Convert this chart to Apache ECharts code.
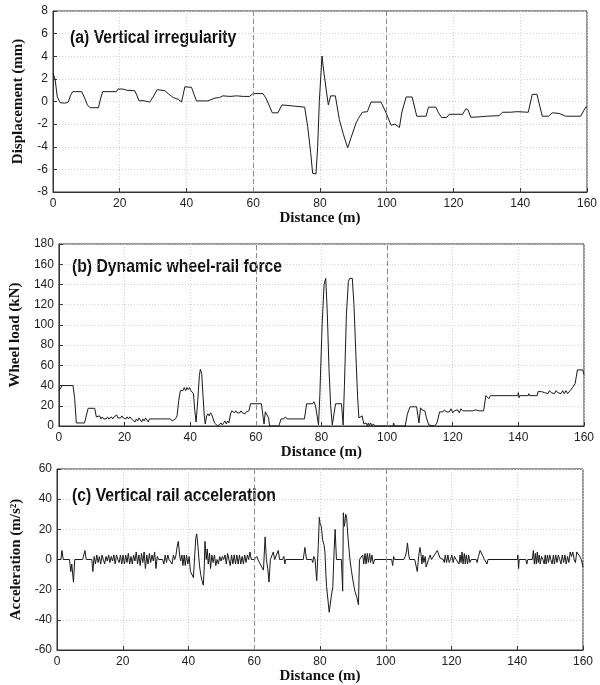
<!DOCTYPE html>
<html><head><meta charset="utf-8">
<script src="https://cdn.jsdelivr.net/npm/echarts@6/dist/echarts.min.js"></script>
<style>html,body{margin:0;padding:0;background:#fff}#c{width:600px;height:685px}</style>
</head><body><div id="c"></div>
<script>
const xTicks = [0, 20, 40, 60, 80, 100, 120, 140, 160];
const markX = [60, 100];
const titles = ['(a) Vertical irregularity', '(b) Dynamic wheel-rail force', '(c) Vertical rail acceleration'];
const yNames = ['Displacement (mm)', 'Wheel load (kN)', 'Acceleration (m/s²)'];
const xName = 'Distance (m)';

const displacement = [[0,2.5],[0.6,2.0],[1.3,0.4],[2.1,-0.1],[3.5,-0.15],[4.6,-0.05],[5.2,0.5],[5.9,0.87],[8.6,0.87],[9.5,0.3],[10.3,-0.3],[11.1,-0.55],[13.6,-0.55],[14.3,0.3],[14.9,0.87],[19,0.87],[19.5,1.1],[21,1.1],[22,1.0],[24.5,0.95],[25.2,0.5],[25.8,0.05],[27,0.08],[29,-0.05],[30,0.4],[31.2,1.05],[33.5,0.95],[34.5,0.7],[36,0.35],[37.5,0.2],[38.5,-0.05],[39,0.6],[39.5,1.3],[41.5,1.25],[42.3,0.6],[43,0.05],[46.4,0.05],[46.9,0.2],[48.5,0.3],[49.9,0.35],[50.9,0.5],[53,0.45],[55,0.5],[57,0.45],[58.9,0.45],[59.9,0.7],[62.9,0.7],[63.8,0.3],[65,-0.5],[65.7,-1.0],[67.4,-1.0],[68.6,-0.3],[72,-0.4],[75.4,-0.5],[76.3,-2.2],[77.2,-4.5],[77.8,-6.35],[78.8,-6.4],[79.3,-4],[79.8,0],[80.6,4.02],[81.2,2.5],[82,0.75],[82.5,-0.3],[83.2,0.5],[84.6,0.5],[85.8,-1.6],[87,-2.9],[88.3,-4.1],[88.8,-4.2],[89.3,-3.2],[90.8,-1.9],[91.5,-1.5],[92.7,-0.95],[94.2,-0.9],[95.3,-0.05],[98.3,-0.05],[99.8,-1.0],[101.3,-2.1],[102.5,-2.0],[103.8,-2.3],[104.5,-1.0],[105.8,0.4],[107.6,0.4],[109,-1.3],[111.8,-1.3],[112.5,-0.5],[114.7,-0.5],[115.5,-1.0],[116.5,-1.43],[118,-1.4],[118.7,-1.13],[122.7,-1.13],[123.7,-0.65],[124.3,-0.7],[125.2,-1.4],[128,-1.35],[130,-1.3],[133.7,-1.25],[134.7,-0.95],[137,-0.95],[139,-0.9],[142.4,-0.95],[143.6,0.63],[145,0.63],[146.6,-1.3],[148.5,-1.3],[149.6,-1.0],[151.6,-1.05],[153.6,-1.3],[158.1,-1.3],[159.6,-0.5],[160,-0.5]];

const wheelLoad = [[0,35],[0.3,36],[0.6,36],[1,40],[4.3,40],[4.8,27],[5.3,3],[7.8,3],[8.9,17.5],[10.9,17.5],[11.4,9],[12,8],[12.4,10],[12.8,7],[13.2,9],[13.6,7],[14,8],[14.4,7],[14.8,9],[15.2,7],[15.6,8],[16,9],[16.4,7],[16.8,9],[17.2,10],[17.6,11],[18,8],[18.4,9],[18.8,8],[19.2,10],[19.6,8],[20,9],[20.4,7],[20.8,9],[21.2,7],[21.6,9],[22,8],[22.4,6],[22.8,7],[23.2,4],[23.6,7],[24,5],[24.4,8],[24.8,6],[25.2,4],[25.6,7],[26,5],[26.4,8],[26.8,6],[27.2,4],[27.6,7],[28,6],[28.4,7],[29.2,7],[30,7],[31,7],[32,7],[32.4,6],[33,7],[34,7],[34.5,5],[35,4],[35.5,7],[36,10],[36.5,25],[37,35],[37.4,36],[37.8,35],[38.2,38],[38.6,35],[39,38],[39.4,36],[39.8,38],[40.2,35],[40.6,36],[41,32],[41.4,15],[41.8,4],[42.3,25],[42.8,50],[43.1,56],[43.5,52],[43.9,30],[44.3,10],[44.6,2],[45,10],[45.4,12],[45.8,10],[46.2,13],[46.6,11],[47,10],[47.4,3],[47.8,2],[48.4,0],[49,0],[49.4,3],[49.8,1],[50.2,2],[50.6,5],[51,2],[51.4,5],[51.8,3],[52.3,12],[52.7,15],[53.1,14],[53.5,13],[53.9,15],[54.3,13],[54.7,14],[55.1,13],[55.5,15],[55.9,13],[56.3,14],[56.7,12],[57.1,14],[57.5,13],[57.9,15],[58.4,22],[61.7,22],[62.1,12],[62.5,2],[62.9,14],[63.5,14],[63.9,8],[64.2,0],[67,0],[67.7,7],[68.5,7],[69,9],[69.5,7],[74.8,7],[75.5,22],[77.3,22],[77.7,24],[78.2,20],[79.1,1],[79.5,30],[80.2,100],[80.8,140],[81.3,146],[81.8,110],[82.3,56],[82.8,20],[83.3,1],[83.8,1],[84.3,22],[86.1,22],[86.6,1],[87,40],[87.6,110],[88.2,143],[88.6,146],[89.4,146],[89.9,120],[90.5,70],[91,30],[91.4,8],[91.9,9],[92.4,10],[92.9,2],[93.3,1],[93.6,3],[94,0],[94.3,3],[94.6,0],[95,3],[95.4,0],[95.8,2],[96.4,0],[101.8,0],[102,3],[102.2,0],[105.5,0],[106.2,12],[107,19],[109,19],[109.4,10],[109.7,3],[110.2,18],[110.6,16],[111,17],[111.5,15],[112,8],[112.7,1],[113,0],[114.5,0],[115.2,3],[116,14],[117,14],[117.5,16],[118,14],[118.5,15],[119,14],[119.5,17],[120,13],[120.5,15],[121,14],[121.5,16],[122,13],[122.5,17],[123,15],[123.5,16],[124,15],[124.5,16],[125,15],[125.5,16],[126,15],[127,16],[128,15],[129.4,15],[130.1,30],[130.6,30],[131,27],[131.5,30],[139.8,30],[140,33],[140.2,28],[140.4,30],[143,30],[143.2,32],[143.4,30],[145.7,30],[146,34],[146.5,33],[147,34],[147.5,35],[148,33],[148.5,34],[149,32],[149.5,35],[150,33],[150.5,34],[151,32],[151.5,35],[152,33],[152.5,34],[153,32],[153.5,35],[154,32],[154.5,35],[155,32],[155.8,35],[156.5,38],[157.3,42],[158,55.5],[159.6,55.5],[160,51]];

const acceleration = [[0,0],[1.2,0],[1.5,6],[1.9,0],[3.8,0],[4.2,-8],[4.5,-3],[5.0,-15],[5.4,0],[7.8,0],[8.5,6],[8.9,0],[10.6,0],[10.9,-8],[11.3,2],[11.7,-3],[12.1,3],[12.5,-2],[12.9,2],[13.3,-3],[13.7,3],[14.1,0],[14.5,-3],[14.9,2],[15.3,-1],[15.7,3],[16.1,-2],[16.5,2],[16.9,-1],[17.3,3],[17.7,-3],[18.1,3],[18.5,0],[18.9,-2],[19.3,3],[19.7,-3],[20.1,3],[20.5,-3],[20.9,3],[21.3,-2],[21.7,4],[22.1,-3],[22.5,2],[22.9,-3],[23.3,3],[23.7,-1],[24.1,5],[24.5,-3],[24.9,3],[25.3,-4],[25.7,4],[26.1,-2],[26.5,5],[26.9,-6],[27.3,3],[27.7,-3],[28.1,4],[28.5,-2],[28.9,3],[29.3,-1],[29.7,5],[30.1,-6],[30.5,2],[30.9,0],[32.1,0],[32.5,-3],[32.9,3],[33.3,-2],[33.7,3],[34.1,0],[34.5,0],[35,-3],[35.4,3],[35.8,0],[36.2,3],[36.5,8],[36.9,12],[37.3,3],[37.6,-1],[38,3],[38.3,-4],[38.7,3],[39,-4],[39.4,3],[39.8,-3],[40.2,2],[40.6,-8],[41,-7],[41.5,-12],[41.9,3],[42.2,14],[42.5,17],[42.9,8],[43.3,-3],[43.7,-10],[44.1,-14],[44.5,-17],[44.8,-5],[45,12],[45.4,0],[45.7,7],[46,-3],[46.4,4],[46.7,-6],[47.1,3],[47.5,-2],[47.9,3],[48.3,-4],[48.7,0],[49.1,-3],[49.5,2],[49.9,-1],[50.3,2],[50.7,0],[51.1,3],[51.5,-3],[51.9,4],[52.3,0],[52.7,-4],[53.1,3],[53.5,-3],[53.9,3],[54.3,-3],[54.7,3],[55.1,-3],[55.5,3],[55.9,-3],[56.3,2],[56.7,-3],[57.1,3],[57.5,-2],[57.9,3],[58.3,0],[58.7,5],[59.1,0],[59.5,-1],[59.9,0],[60.5,0],[60.8,2],[61.1,0],[61.5,0],[61.8,-3],[62.3,-5],[62.8,-7],[63.3,15],[63.7,0],[64.1,-6],[64.5,-15],[64.9,0],[65.3,1],[65.8,5],[66.2,0],[66.8,1],[67.3,6],[67.7,0],[68.6,0],[69.0,2],[69.3,-3],[69.6,0],[74.9,0],[75.4,8],[75.9,0],[77.5,0],[77.8,-2],[78.1,2],[78.5,0],[79,-14],[79.5,10],[79.8,28],[80,24],[80.4,22],[80.8,13],[81.2,10],[81.5,5],[81.8,-10],[82,-18],[82.8,-35],[83.4,-25],[83.9,-18],[84.3,6],[84.6,20],[85,0],[86.5,0],[86.9,-21],[87.1,31],[87.4,22],[87.6,25],[87.8,30],[88.1,28],[88.5,15],[89.1,0],[89.6,-8],[90.1,-15],[90.6,-21],[91.2,-25],[91.7,-30],[92,0],[92.6,0],[93,3],[93.3,-3],[93.7,4],[94,-3],[94.4,4],[94.7,-2],[95.1,4],[95.4,-2],[95.8,3],[96.2,-3],[96.6,0],[101.8,0],[102.1,-4],[102.4,2],[102.7,0],[105.5,0],[105.9,2],[106.3,5],[106.6,11],[107,3],[107.3,0],[108.8,0],[109.3,-5],[109.6,-8],[110,2],[110.4,8],[110.7,4],[111,-3],[111.3,3],[111.6,-2],[112,2],[112.3,-5],[112.6,-4],[113,0],[113.5,3],[113.9,0],[114.5,0],[114.8,3],[115.3,3],[115.7,6],[116.1,6],[116.5,1],[117,0],[117.5,0],[117.8,-2],[118.1,3],[118.5,-2],[118.9,3],[119.3,-2],[119.7,0],[120.1,3],[120.5,-2],[120.9,2],[121.4,0],[122,0],[122.3,-3],[122.6,3],[122.9,-2],[123.2,5],[123.5,-3],[123.9,4],[124.2,-3],[124.5,3],[124.9,-3],[125.2,3],[125.6,-2],[126,0],[127.5,0],[127.8,-2],[128.2,2],[128.7,6],[129.2,6],[129.6,2],[130,0],[130.5,0],[130.8,-3],[131.1,0],[140,0],[140.2,3],[140.4,-6],[140.6,0],[142.6,0],[142.9,-3],[143.2,0],[144.6,0],[144.9,6],[145.2,-3],[145.5,4],[145.8,-3],[146.1,5],[146.4,-2],[146.7,3],[147,-3],[147.4,2],[147.8,0],[148.2,-3],[148.5,3],[148.8,-3],[149.2,3],[149.5,-2],[149.9,3],[150.2,0],[150.6,-3],[151,3],[151.3,-3],[151.7,3],[152.1,-2],[152.5,3],[152.9,0],[153.3,-3],[153.7,3],[154.1,-2],[154.5,3],[154.9,-3],[155.3,2],[155.7,-2],[156.1,5],[156.5,2],[156.9,5],[157.3,0],[157.7,-2],[158.1,5],[158.6,5],[159,2],[159.5,0],[159.8,-3],[160,-5]];

const yRanges = [[-8, 8, 2], [0, 180, 20], [-60, 60, 20]];
const seriesData = [displacement, wheelLoad, acceleration];

const grids = [
  {left: 53, top: 11, width: 535, height: 181},
  {left: 54, top: 244, width: 530, height: 182},
  {left: 57, top: 469, width: 526, height: 181}
];
const yNameGaps = [27, 35, 31];
const titlePos = [[70, 38], [72, 267], [72, 496]];

const tickFont = {fontFamily: 'Liberation Sans, Arial, sans-serif', fontSize: 12, color: '#222'};
const nameFont = {fontFamily: 'Liberation Serif, Times New Roman, serif', fontSize: 15, fontWeight: 'bold', color: '#111'};
const gridLine = {show: true, lineStyle: {color: '#d0d0d0', type: [1, 2], width: 1}};

const option = {
  animation: false,
  backgroundColor: '#fff',
  grid: grids.map(g => Object.assign({show: true, borderColor: '#333', borderWidth: 1, backgroundColor: 'transparent'}, g)),
  xAxis: grids.map((g, i) => ({
    gridIndex: i, type: 'value', min: xTicks[0], max: xTicks[xTicks.length - 1], interval: 20,
    name: xName, nameLocation: 'middle', nameGap: 15, nameTextStyle: nameFont,
    axisLine: {show: true, onZero: false, lineStyle: {color: '#333'}},
    axisTick: {show: true, inside: true, length: 4, lineStyle: {color: '#333'}},
    axisLabel: Object.assign({margin: 6}, tickFont),
    splitLine: gridLine
  })),
  yAxis: grids.map((g, i) => ({
    gridIndex: i, type: 'value', min: yRanges[i][0], max: yRanges[i][1], interval: yRanges[i][2],
    name: yNames[i], nameLocation: 'middle', nameGap: yNameGaps[i], nameRotate: 90, nameTextStyle: nameFont,
    axisLine: {show: true, onZero: false, lineStyle: {color: '#333'}},
    axisTick: {show: true, inside: true, length: 4, lineStyle: {color: '#333'}},
    axisLabel: Object.assign({margin: 5}, tickFont),
    splitLine: gridLine
  })),
  series: seriesData.map((d, i) => ({
    type: 'line', xAxisIndex: i, yAxisIndex: i, data: d, showSymbol: false, symbol: 'none',
    lineStyle: {color: '#1a1a1a', width: 1}, z: 3,
    markLine: {
      silent: true, symbol: 'none', label: {show: false},
      lineStyle: {color: '#8a8a8a', type: [5, 3], width: 1},
      data: markX.map(x => ({xAxis: x}))
    }
  })),
  graphic: titles.map((t, i) => ({
    type: 'text', x: titlePos[i][0], y: titlePos[i][1], scaleX: 0.875,
    style: {text: t, fill: '#111', textVerticalAlign: 'middle', verticalAlign: 'middle', font: 'bold 18px "Liberation Sans", Arial, sans-serif'}
  }))
};
const chart = echarts.init(document.getElementById('c'), null, {renderer: 'canvas'});
chart.setOption(option);
</script></body></html>
